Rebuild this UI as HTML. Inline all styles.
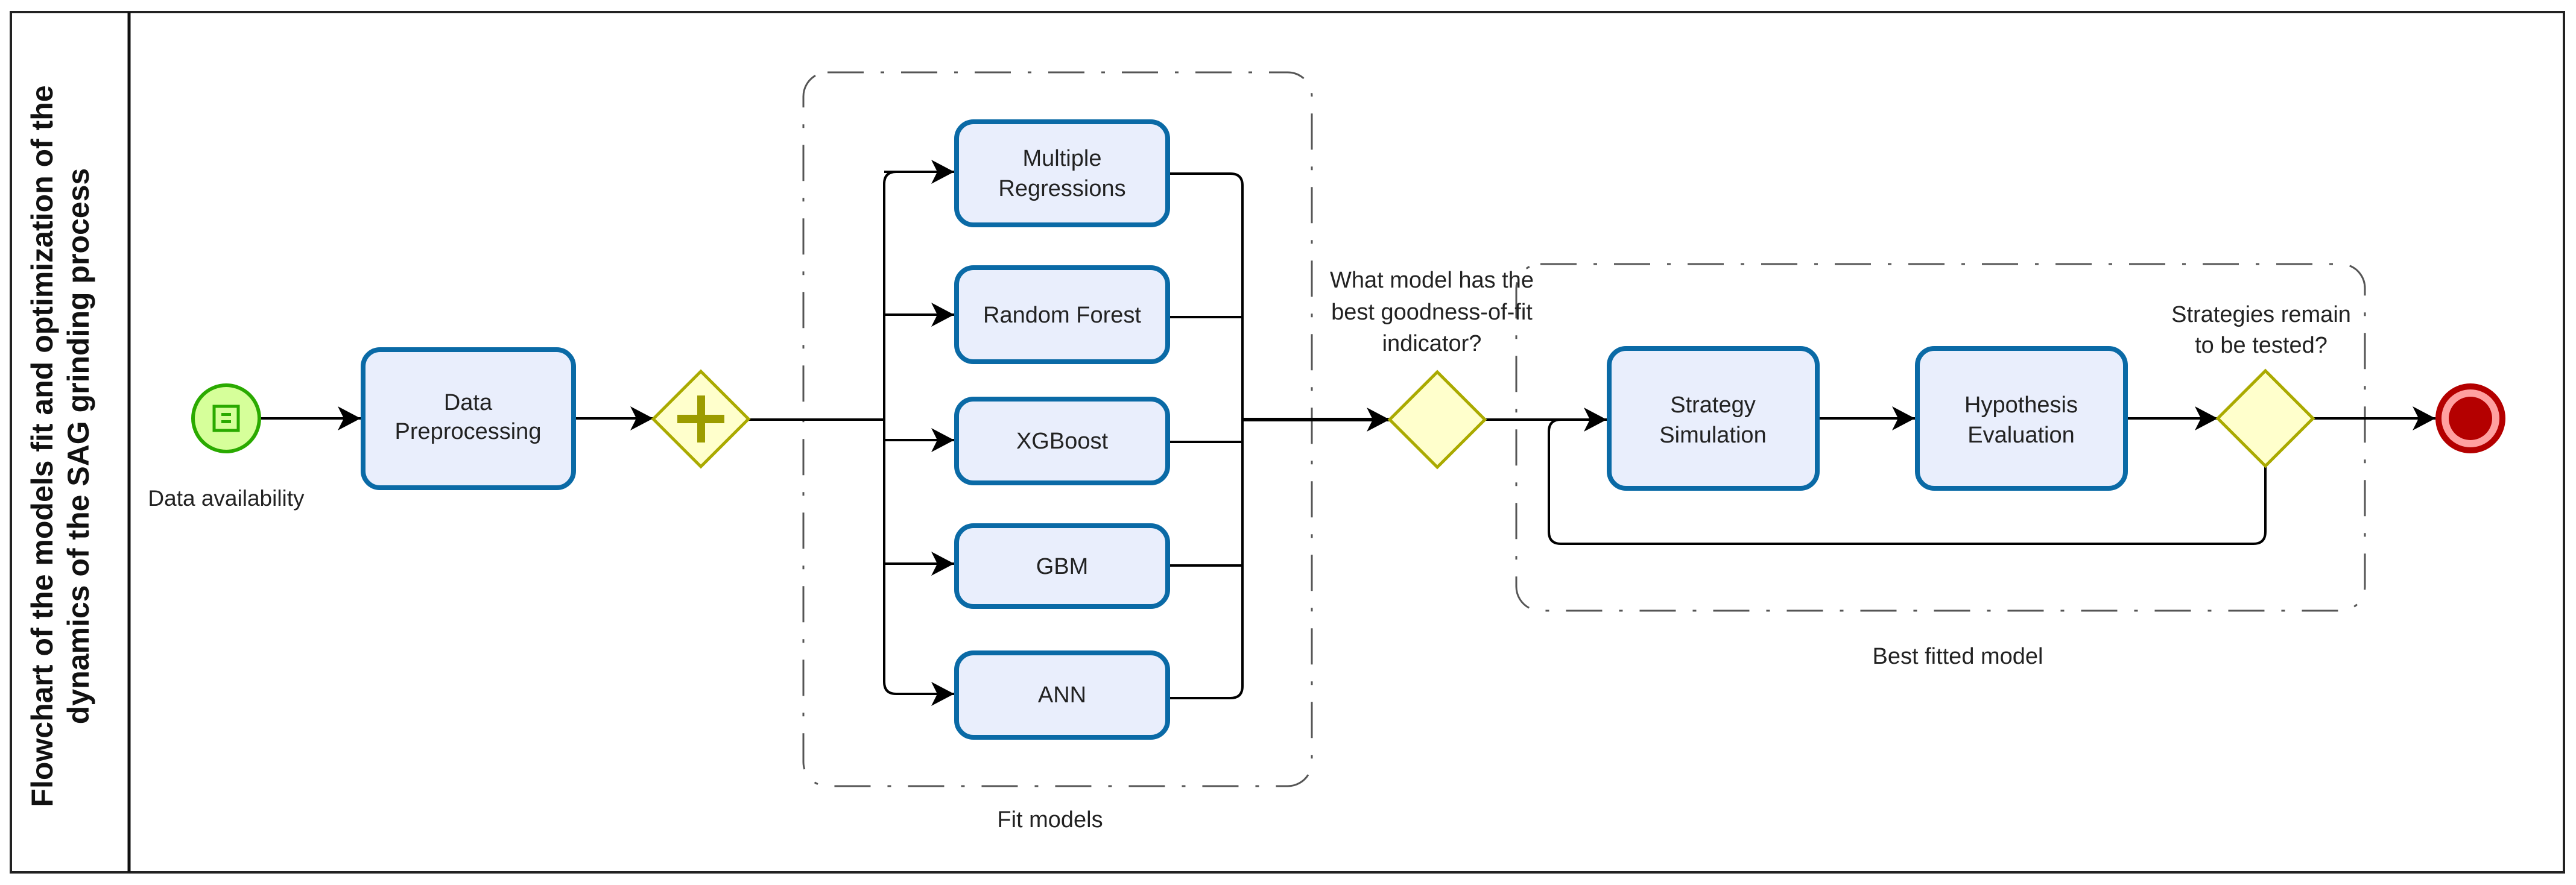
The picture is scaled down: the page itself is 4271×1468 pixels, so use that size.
<!DOCTYPE html>
<html><head><meta charset="utf-8"><style>
html,body{margin:0;padding:0;background:#fff;}
svg{display:block;}
text{font-family:"Liberation Sans","DejaVu Sans",sans-serif;fill:#222;}
</style></head><body>
<svg width="4271" height="1468" viewBox="0 0 4271 1468" xmlns="http://www.w3.org/2000/svg">
<defs>
<marker id="ah" markerWidth="40" markerHeight="40" refX="38" refY="20" orient="auto" markerUnits="userSpaceOnUse">
<path d="M0,0 L38,20 L0,40 L10,20 Z" fill="#000"/>
</marker>
</defs>
<rect x="18" y="20" width="4233" height="1427" fill="#fff" stroke="#222" stroke-width="4"/>
<line x1="214" y1="20" x2="214" y2="1447" stroke="#111" stroke-width="5"/>
<text transform="translate(87,740) rotate(-90)" text-anchor="middle" font-size="50" font-weight="bold" style="fill:#111">Flowchart of the models fit and optimization of the</text>
<text transform="translate(147,740) rotate(-90)" text-anchor="middle" font-size="50" font-weight="bold" style="fill:#111">dynamics of the SAG grinding process</text>

<g fill="none" stroke="#555" stroke-width="3" stroke-dasharray="60 28 6 28">
<rect x="1332" y="120" width="843" height="1184" rx="40"/>
<rect x="2514" y="438" width="1407" height="575" rx="40"/>
</g>
<text x="1741" y="1372" text-anchor="middle" font-size="38">Fit models</text>
<text x="3246" y="1101" text-anchor="middle" font-size="38">Best fitted model</text>

<g fill="none" stroke="#000" stroke-width="4">
<line x1="433" y1="694" x2="598" y2="694" marker-end="url(#ah)"/>
<line x1="955" y1="694" x2="1083" y2="694" marker-end="url(#ah)"/>
<line x1="1241" y1="696" x2="1466" y2="696"/>
<path d="M1582,285 H1486 Q1466,285 1466,305 V1131 Q1466,1151 1486,1151 H1582" marker-end="url(#ah)"/>
<line x1="1466" y1="522" x2="1582" y2="522" marker-end="url(#ah)"/>
<line x1="1466" y1="730" x2="1582" y2="730" marker-end="url(#ah)"/>
<line x1="1466" y1="935" x2="1582" y2="935" marker-end="url(#ah)"/>
<path d="M1466,285 L1582,285" marker-end="url(#ah)"/>
<path d="M1940,288 H2040 Q2060,288 2060,308 V1138 Q2060,1158 2040,1158 H1940"/>
<line x1="1940" y1="526" x2="2060" y2="526"/>
<line x1="1940" y1="733" x2="2060" y2="733"/>
<line x1="1940" y1="938" x2="2060" y2="938"/>
<line x1="2060" y1="696" x2="2304" y2="696" stroke-width="6" marker-end="url(#ah)"/>
<path d="M2462,696 H2664" marker-end="url(#ah)"/>
<line x1="3017" y1="694" x2="3175" y2="694" marker-end="url(#ah)"/>
<line x1="3528" y1="694" x2="3677" y2="694" marker-end="url(#ah)"/>
<line x1="3835" y1="694" x2="4038" y2="694" marker-end="url(#ah)"/>
<path d="M3756,773 V882 Q3756,902 3736,902 H2588 Q2568,902 2568,882 V716 Q2568,696 2588,696"/>
</g>

<circle cx="375" cy="694" r="55" fill="#d6ff9a" stroke="#2aaa00" stroke-width="6"/>
<rect x="355" y="674" width="40" height="40" fill="none" stroke="#2aaa00" stroke-width="5"/>
<rect x="367" y="685" width="16" height="5" fill="#2aaa00"/>
<rect x="367" y="697" width="16" height="5" fill="#2aaa00"/>
<text x="375" y="839" text-anchor="middle" font-size="37">Data availability</text>

<g fill="#e9eefc" stroke="#0a6aa6" stroke-width="8">
<rect x="602" y="580" width="349" height="229" rx="28"/>
<rect x="1586" y="202" width="350" height="171" rx="28"/>
<rect x="1586" y="444" width="350" height="156" rx="28"/>
<rect x="1586" y="662" width="350" height="139" rx="28"/>
<rect x="1586" y="872" width="350" height="134" rx="28"/>
<rect x="1586" y="1083" width="350" height="140" rx="28"/>
<rect x="2668" y="578" width="345" height="232" rx="28"/>
<rect x="3179" y="578" width="345" height="232" rx="28"/>
</g>
<g font-size="38" text-anchor="middle">
<text x="776" y="680">Data</text>
<text x="776" y="728">Preprocessing</text>
<text x="1761" y="275">Multiple</text>
<text x="1761" y="325">Regressions</text>
<text x="1761" y="535">Random Forest</text>
<text x="1761" y="744">XGBoost</text>
<text x="1761" y="952">GBM</text>
<text x="1761" y="1165">ANN</text>
<text x="2840" y="684">Strategy</text>
<text x="2840" y="734">Simulation</text>
<text x="3351" y="684">Hypothesis</text>
<text x="3351" y="734">Evaluation</text>
</g>

<g fill="#ffffcc" stroke="#aaaa00" stroke-width="5">
<polygon points="1162,616 1241,695 1162,774 1083,695"/>
<polygon points="2383,617 2462,696 2383,775 2304,696"/>
<polygon points="3756,615 3835,694 3756,773 3677,694"/>
</g>
<rect x="1156" y="656" width="13" height="78" fill="#9c9c00"/>
<rect x="1123" y="688" width="78" height="14" fill="#9c9c00"/>
<g font-size="38" text-anchor="middle">
<text x="2374" y="477">What model has the</text>
<text x="2374" y="530">best goodness-of-fit</text>
<text x="2374" y="582">indicator?</text>
<text x="3749" y="534">Strategies remain</text>
<text x="3749" y="585">to be tested?</text>
</g>

<circle cx="4096" cy="694" r="53" fill="#ffa0a0" stroke="#b40000" stroke-width="10"/>
<circle cx="4096" cy="694" r="36" fill="#b40000"/>
</svg>
</body></html>
